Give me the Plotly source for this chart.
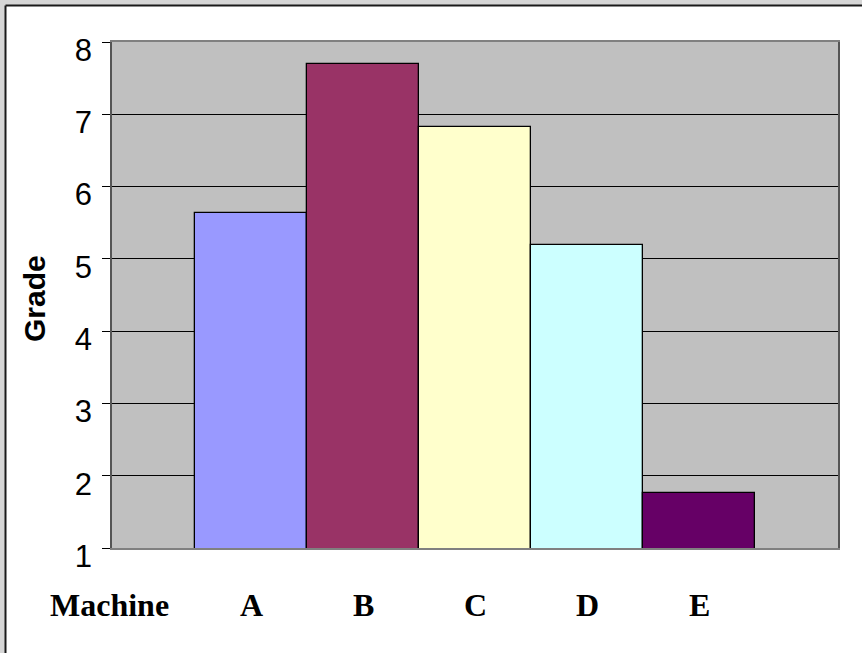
import plotly.graph_objects as go

categories = ["A", "B", "C", "D", "E"]
grades = [5.63, 7.70, 6.82, 5.19, 1.76]
bar_colors = ["#9999FF", "#993366", "#FFFFCC", "#CCFFFF", "#660066"]
y_ticks = [1, 2, 3, 4, 5, 6, 7, 8]
group_label = "Machine"
y_title = "Grade"

W, H = 862, 653
L, R, T, B = 112, 24, 42, 105
pw, ph = W - L - R, H - T - B

def px_x(p):
    return (p - L) / pw

def px_y(p):
    return (H - B - p) / ph

fig = go.Figure()
fig.add_trace(go.Bar(
    x=categories, y=grades,
    marker=dict(color=bar_colors, line=dict(color="#000000", width=1.3)),
    width=1.0, hoverinfo="x+y",
))

annotations = []
for c in categories:
    annotations.append(dict(x=c, xref="x", y=px_y(605), yref="paper", text=c,
                            showarrow=False, yanchor="middle", xanchor="center",
                            font=dict(family="Liberation Serif", size=32, color="#000000", weight="bold")))
annotations.append(dict(x=px_x(109), xref="paper", y=px_y(605), yref="paper", text=group_label,
                        showarrow=False, yanchor="middle", xanchor="center",
                        font=dict(family="Liberation Serif", size=32, color="#000000", weight="bold")))
annotations.append(dict(x=px_x(34), xref="paper", y=px_y(299), yref="paper", text=y_title,
                        showarrow=False, textangle=-90, yanchor="middle", xanchor="center",
                        font=dict(family="Liberation Sans", size=30, color="#000000", weight="bold")))

shapes = [
    dict(type="rect", xref="paper", yref="paper", x0=px_x(-5), x1=px_x(5), y0=px_y(700), y1=px_y(-5),
         fillcolor="#D6D6D6", line=dict(width=0), layer="above"),
    dict(type="rect", xref="paper", yref="paper", x0=px_x(-5), x1=px_x(870), y0=px_y(5), y1=px_y(-5),
         fillcolor="#D6D6D6", line=dict(width=0), layer="above"),
    dict(type="line", xref="paper", yref="paper", x0=px_x(5.5), x1=px_x(870), y0=px_y(5.5), y1=px_y(5.5),
         line=dict(color="#1a1a1a", width=2), layer="above"),
    dict(type="line", xref="paper", yref="paper", x0=px_x(5.5), x1=px_x(5.5), y0=px_y(700), y1=px_y(5.5),
         line=dict(color="#1a1a1a", width=2), layer="above"),
]

fig.update_layout(
    width=W, height=H,
    margin=dict(l=L, r=R, t=T, b=B, pad=0),
    paper_bgcolor="#FFFFFF",
    plot_bgcolor="#C0C0C0",
    bargap=0,
    showlegend=False,
    annotations=annotations,
    shapes=shapes,
    xaxis=dict(range=[-1.241, 5.241], showticklabels=False, ticks="", showgrid=False,
               showline=True, linecolor="#808080", linewidth=2, mirror=True, zeroline=False,
               fixedrange=True),
    yaxis=dict(range=[1, 8], tickvals=y_ticks, ticks="outside", ticklen=8, tickcolor="#000000",
               tickwidth=1, showgrid=True, gridcolor="#000000", gridwidth=1,
               showline=True, linecolor="#555555", linewidth=1.5, mirror=True, zeroline=False,
               ticklabelshift=8, ticklabelstandoff=4,
               tickfont=dict(family="Liberation Sans", size=31, color="#000000"),
               fixedrange=True),
)

fig.write_html("out.html", config={"displayModeBar": False},
               post_script="document.body.style.margin='0px';document.body.style.overflow='hidden';")
